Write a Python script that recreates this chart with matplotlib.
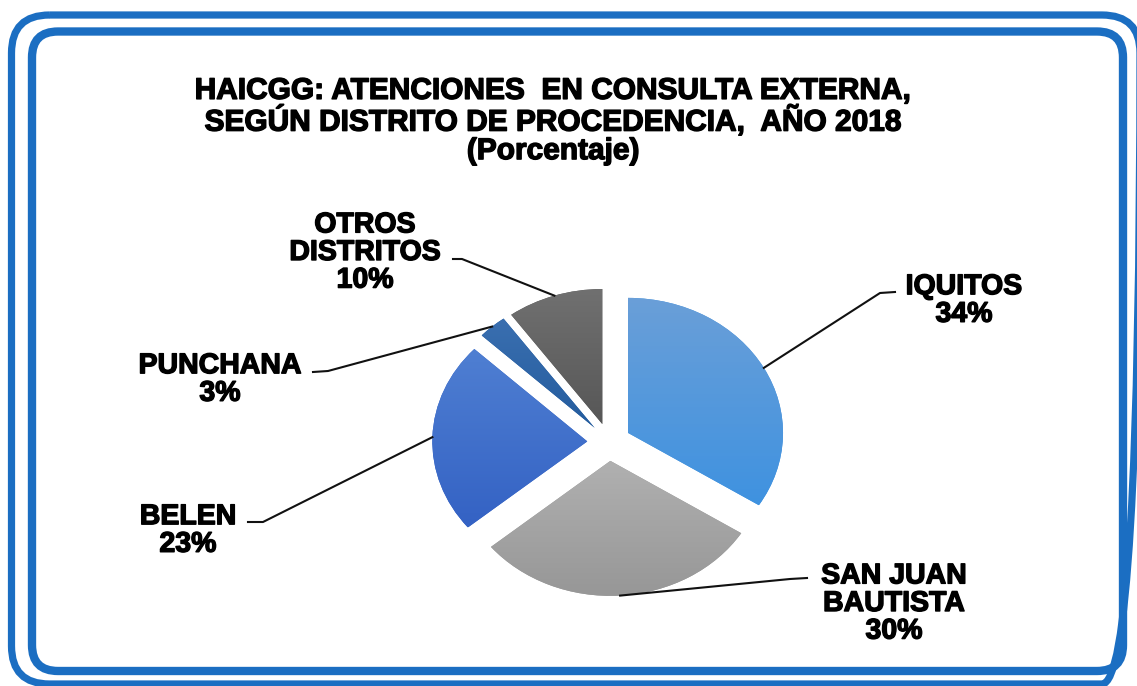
import matplotlib
matplotlib.use("Agg")
import matplotlib.pyplot as plt
import matplotlib.patheffects as pe
import numpy as np
from matplotlib.colors import to_rgb
from matplotlib.patches import FancyBboxPatch

plt.rcParams["font.family"] = ["Liberation Sans", "DejaVu Sans"]

# data
districts = ["IQUITOS", "SAN JUAN\nBAUTISTA", "BELEN", "PUNCHANA", "OTROS\nDISTRITOS"]
percent = [34, 30, 23, 3, 10]
title = ("HAICGG: ATENCIONES  EN CONSULTA EXTERNA,\n"
         "SEGÚN DISTRITO DE PROCEDENCIA,  AÑO 2018\n"
         "(Porcentaje)")

# gradient colours top -> bottom for each slice
grad_top = ["#6A9FD8", "#B0B0B0", "#4F7FD2", "#3A6FB0", "#707070"]
grad_bot = ["#3F92E0", "#979797", "#3462C4", "#245C9E", "#575757"]

# label placement (pixels from top-left) and leader line elbows
label_pos = [(964, 301), (894, 604), (188, 531), (220, 380), (365, 253)]
elbows = [[(880, 293), (895, 292)],
          [(790, 579), (807, 578)],
          [(263, 522), (248, 522)],
          [(328, 371), (313, 372)],
          [(462, 259), (453, 259)]]

W, H = 1137, 686
fig = plt.figure(figsize=(W / 100, H / 100), dpi=100)
fig.patch.set_facecolor("white")

# pie axes: centre (609, 442), rx 155 px, ry 135 px
cx, cy, rx, ry, lim = 609, 442, 155, 135, 1.4
ax = fig.add_axes([(cx - lim * rx) / W, (H - cy - lim * ry) / H,
                   2 * lim * rx / W, 2 * lim * ry / H])
wedges, _ = ax.pie(percent, startangle=90, counterclock=False,
                   explode=[0.14] * len(percent),
                   wedgeprops=dict(linewidth=0))
for w, top, bot in zip(wedges, grad_top, grad_bot):
    w.set_facecolor(bot)
    ext = w.get_path().get_extents()
    t = np.linspace(0, 1, 64)[:, None]
    img = (1 - t) * np.array(to_rgb(top)) + t * np.array(to_rgb(bot))
    im = ax.imshow(img[:, None, :], extent=[ext.x0, ext.x1, ext.y0, ext.y1],
                   origin="upper", aspect="auto", zorder=w.get_zorder() + 0.1)
    im.set_clip_path(w)
ax.set_aspect("auto")
ax.set_xlim(-lim, lim)
ax.set_ylim(-lim, lim)
ax.axis("off")

# overlay in pixel coordinates
ov = fig.add_axes([0, 0, 1, 1], zorder=5)
ov.set_xlim(0, W)
ov.set_ylim(H, 0)
ov.axis("off")
ov.patch.set_alpha(0)

heavy = [pe.withStroke(linewidth=1.0, foreground="black")]

to_ov = ov.transData.inverted()
for w, name, pct, (tx, ty), elb in zip(wedges, districts, percent, label_pos, elbows):
    mid = np.deg2rad((w.theta1 + w.theta2) / 2)
    anchor = (w.center[0] + w.r * np.cos(mid), w.center[1] + w.r * np.sin(mid))
    px, py = to_ov.transform(ax.transData.transform(anchor))
    xs = [px] + [p[0] for p in elb]
    ys = [py] + [p[1] for p in elb]
    ov.plot(xs, ys, color="#111111", lw=1.5)
    ov.text(tx, ty, f"{name}\n{pct}%", ha="center", va="center",
            fontsize=20.5, fontweight="bold", linespacing=1.08,
            path_effects=heavy)

ov.text(553, 121, title, ha="center", va="center", fontsize=21.5,
        fontweight="bold", linespacing=1.02, path_effects=heavy)

# double rounded border
blue = "#1B6EC2"
ov.add_patch(FancyBboxPatch((11.5, 15), 1140 - 11.5, 684 - 15,
                            boxstyle="round,pad=0,rounding_size=38",
                            fill=False, ec=blue, lw=5.2))
ov.add_patch(FancyBboxPatch((32, 31.5), 1123 - 32, 671 - 31.5,
                            boxstyle="round,pad=0,rounding_size=26",
                            fill=False, ec=blue, lw=6))

fig.savefig("out.png", dpi=100)
